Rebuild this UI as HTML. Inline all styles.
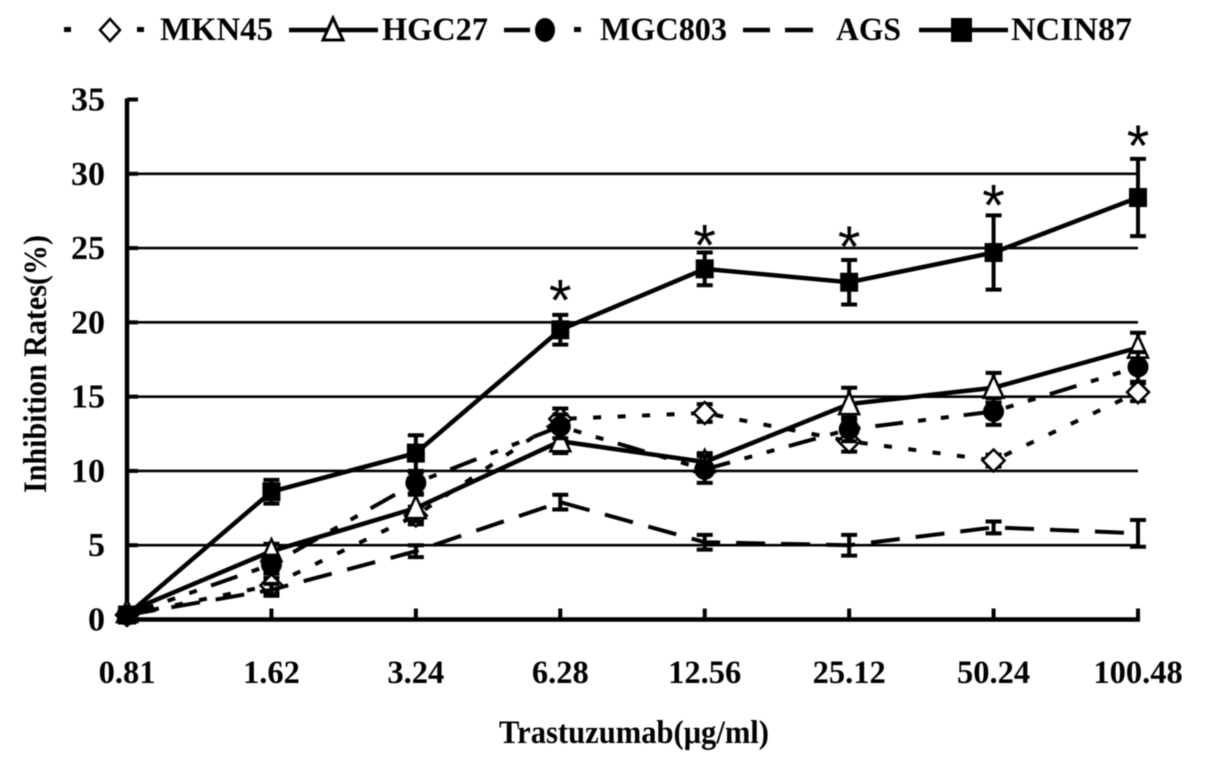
<!DOCTYPE html>
<html>
<head>
<meta charset="utf-8">
<title>Inhibition rates chart</title>
<style>
html,body{margin:0;padding:0;background:#fff;width:1205px;height:768px;overflow:hidden}
svg{display:block;filter:blur(0.4px)}
text{font-family:"Liberation Serif",serif;font-weight:bold;fill:#000}
</style>
</head>
<body>
<svg id="chart" width="1205" height="768" viewBox="0 0 1205 768" xmlns="http://www.w3.org/2000/svg">
  <rect width="1205" height="768" fill="#fff"/>
  <g id="grid"></g>
  <g id="axes"></g>
  <g id="series"></g>
  <g id="stars"></g>
  <text transform="translate(46,364) rotate(-90)" text-anchor="middle" font-size="33" textLength="258" lengthAdjust="spacingAndGlyphs">Inhibition Rates(%)</text>
  <text x="634" y="743" text-anchor="middle" font-size="33" textLength="270" lengthAdjust="spacingAndGlyphs">Trastuzumab(μg/ml)</text>
  <g>
    <g>
      <rect x="64" y="27" width="7" height="5" fill="#000"/>
      <rect x="137" y="27" width="7" height="5" fill="#000"/>
      <path d="M110 19 L120 30 L110 41 L100 30 Z" fill="#fff" stroke="#000" stroke-width="2.5"/>
      <text x="160" y="40" font-size="33" textLength="113" lengthAdjust="spacingAndGlyphs">MKN45</text>
    </g>
    <g>
      <line x1="289" y1="30" x2="378" y2="30" stroke="#000" stroke-width="4.5"/>
      <path d="M333 18 L343 40 L323 40 Z" fill="#fff" stroke="#000" stroke-width="3"/>
      <text x="382" y="40" font-size="33" textLength="106" lengthAdjust="spacingAndGlyphs">HGC27</text>
    </g>
    <g>
      <line x1="504" y1="30" x2="530" y2="30" stroke="#000" stroke-width="4.5"/>
      <ellipse cx="545" cy="30" rx="10" ry="12" fill="#000"/>
      <rect x="574" y="27" width="7" height="5" fill="#000"/>
      <text x="600" y="40" font-size="33" textLength="127" lengthAdjust="spacingAndGlyphs">MGC803</text>
    </g>
    <g>
      <line x1="743" y1="30" x2="770" y2="30" stroke="#000" stroke-width="4.5"/>
      <line x1="785" y1="30" x2="813" y2="30" stroke="#000" stroke-width="4.5"/>
      <text x="836" y="40" font-size="33" textLength="65" lengthAdjust="spacingAndGlyphs">AGS</text>
    </g>
    <g>
      <line x1="919" y1="30" x2="1008" y2="30" stroke="#000" stroke-width="4.5"/>
      <rect x="951" y="18" width="21" height="24" fill="#000"/>
      <text x="1011" y="40" font-size="33" textLength="121" lengthAdjust="spacingAndGlyphs">NCIN87</text>
    </g>
  </g>
</svg>
<script>
// Chart data
const categories = ['0.81','1.62','3.24','6.28','12.56','25.12','50.24','100.48'];
const yTicks = [0,5,10,15,20,25,30,35];
const mkn45 = [0.3,2.3,7.0,13.5,13.9,12.0,10.7,15.3];
const mkn45Err = [0.2,0.5,0.6,0.7,0.6,0.7,0.4,0.6];
const hgc27 = [0.5,4.6,7.5,12.0,10.6,14.5,15.6,18.3];
const hgc27Err = [0.2,0.5,0.9,0.8,0.6,1.1,1.0,1.0];
const mgc803 = [0.3,3.7,9.2,13.0,10.1,12.8,14.0,17.0];
const mgc803Err = [0.2,0.6,0.7,0.8,0.9,0.8,0.9,1.0];
const ags = [0.3,2.0,4.6,7.9,5.2,5.0,6.2,5.8];
const agsErr = [0.2,0.4,0.4,0.5,0.5,0.7,0.4,0.9];
const ncin87 = [0.3,8.6,11.2,19.5,23.6,22.7,24.7,28.4];
const ncin87Err = [0.2,0.8,1.2,1.0,1.1,1.5,2.5,2.6];
const starValues = [null,null,null,22.0,25.7,25.6,28.4,32.4];

const NS = 'http://www.w3.org/2000/svg';
const x0 = 127, xStep = (1138 - 127) / (categories.length - 1);
const yZero = 619.5, yPerUnit = (619.5 - 99.5) / 35;
const xScale = i => x0 + i * xStep;
const yScale = v => yZero - v * yPerUnit;

function make(tag, parent, attrs) {
  const el = document.createElementNS(NS, tag);
  for (const k in attrs) el.setAttribute(k, attrs[k]);
  parent.appendChild(el);
  return el;
}

const gridG = document.getElementById('grid');
const axesG = document.getElementById('axes');
const seriesG = document.getElementById('series');
const starsG = document.getElementById('stars');

yTicks.forEach(v => {
  if (v > 0 && v < 35) {
    const g = make('line', gridG, {x1: x0, x2: xScale(categories.length - 1), y1: yScale(v), y2: yScale(v), stroke: '#000', 'stroke-width': 2.6});
    
    
  }
  const t = make('line', axesG, {x1: x0, x2: x0 + 11, y1: yScale(v), y2: yScale(v), stroke: '#000', 'stroke-width': 4});
  
  
  const l = make('text', axesG, {x: 105, y: yScale(v) + 11, 'text-anchor': 'end', 'font-size': 34});
  
  
  l.textContent = v;
});

const yAxis = make('line', axesG, {x1: x0, x2: x0, y1: yScale(35) - 1, y2: yZero + 2, stroke: '#000', 'stroke-width': 4.5});


const xAxis = make('line', axesG, {x1: x0 - 2, x2: xScale(categories.length - 1) + 2, y1: yZero, y2: yZero, stroke: '#000', 'stroke-width': 4.5});



categories.forEach((c, i) => {
  const t = make('line', axesG, {x1: xScale(i), x2: xScale(i), y1: yZero, y2: yZero - 11, stroke: '#000', 'stroke-width': 4});
  
  
  const l = make('text', axesG, {x: xScale(i), y: 683, 'text-anchor': 'middle', 'font-size': 32.5});
  
  
  l.textContent = c;
});

function drawSeries(name, values, errs, dash, width, marker) {
  const g = make('g', seriesG, {});
  
  
  values.forEach((v, i) => {
    const cx = xScale(i);
    const top = yScale(v + errs[i]), bot = yScale(v - errs[i]);
    const e = make('path', g, {d: 'M' + cx + ' ' + top + 'V' + bot + 'M' + (cx - 8) + ' ' + top + 'H' + (cx + 8) + 'M' + (cx - 8) + ' ' + bot + 'H' + (cx + 8), stroke: '#000', 'stroke-width': 4, fill: 'none'});
    
    
  });
  const pts = values.map((v, i) => xScale(i) + ',' + yScale(v)).join(' ');
  const attrs = {points: pts, fill: 'none', stroke: '#000', 'stroke-width': width};
  if (dash) attrs['stroke-dasharray'] = dash;
  const line = make('polyline', g, attrs);
  
  
  if (!marker) return;
  values.forEach((v, i) => {
    const cx = xScale(i), cy = yScale(v);
    let m;
    if (marker === 'diamond') {
      m = make('path', g, {d: 'M' + cx + ' ' + (cy - 11) + 'L' + (cx + 11) + ' ' + cy + 'L' + cx + ' ' + (cy + 11) + 'L' + (cx - 11) + ' ' + cy + 'Z', fill: '#fff', stroke: '#000', 'stroke-width': 2.5});
    } else if (marker === 'triangle') {
      m = make('path', g, {d: 'M' + cx + ' ' + (cy - 12) + 'L' + (cx + 10) + ' ' + (cy + 10) + 'L' + (cx - 10) + ' ' + (cy + 10) + 'Z', fill: '#fff', stroke: '#000', 'stroke-width': 2.5});
    } else if (marker === 'circle') {
      m = make('circle', g, {cx: cx, cy: cy, r: 10.5, fill: '#000'});
    } else {
      m = make('rect', g, {x: cx - 9, y: cy - 9.5, width: 18, height: 19, fill: '#000'});
    }
    
    
  });
}

drawSeries('mkn45', mkn45, mkn45Err, '8 16.5', 4, 'diamond');
drawSeries('hgc27', hgc27, hgc27Err, null, 4.5, 'triangle');
drawSeries('mgc803', mgc803, mgc803Err, '28 15 8 15 8 15', 4, 'circle');
drawSeries('ags', ags, agsErr, '29 16', 4, null);
drawSeries('ncin87', ncin87, ncin87Err, null, 4.5, 'square');

starValues.forEach((v, i) => {
  if (v === null) return;
  const s = make('text', starsG, {x: xScale(i), y: yScale(v) + 28, 'text-anchor': 'middle', 'font-size': 58, style: 'font-family:"Liberation Sans",sans-serif;font-weight:normal'});
  
  
  s.textContent = '*';
});
</script>
</body>
</html>
